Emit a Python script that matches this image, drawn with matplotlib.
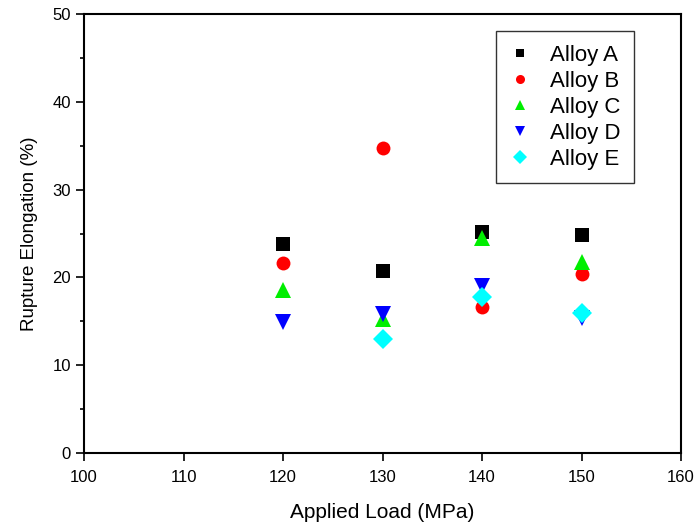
import matplotlib
matplotlib.use("Agg")
import matplotlib.pyplot as plt
from matplotlib.ticker import MultipleLocator

plt.rcParams['font.family'] = ['Liberation Sans', 'DejaVu Sans']

loads = [120, 130, 140, 150]
alloy_a = [23.8, 20.7, 25.2, 24.8]
alloy_b = [21.6, 34.7, 16.6, 20.4]
alloy_c = [18.6, 15.3, 24.5, 21.8]
alloy_d = [14.9, 15.8, 19.0, 15.4]
alloy_e = [None, 13.0, 17.8, 15.9]

series = [
    ("Alloy A", alloy_a, "s", "black", 9.5),
    ("Alloy B", alloy_b, "o", "red", 10),
    ("Alloy C", alloy_c, "^", "#00ee00", 12),
    ("Alloy D", alloy_d, "v", "blue", 12),
    ("Alloy E", alloy_e, "D", "cyan", 10.5),
]

fig = plt.figure(figsize=(6.95, 5.22), dpi=100)
ax = fig.add_axes([0.121, 0.132, 0.859, 0.841])

for name, vals, mk, col, ms in series:
    xs = [x for x, v in zip(loads, vals) if v is not None]
    ys = [v for v in vals if v is not None]
    ax.plot(xs, ys, linestyle='none', marker=mk, color=col, markersize=ms,
            markeredgewidth=0, label=name)

ax.set_xlim(100, 160)
ax.set_ylim(0, 50)
ax.xaxis.set_major_locator(MultipleLocator(10))
ax.yaxis.set_major_locator(MultipleLocator(10))
ax.yaxis.set_minor_locator(MultipleLocator(5))
ax.tick_params(axis='both', which='major', direction='out', length=6, width=1.2,
               labelsize=12, top=False, right=False)
ax.tick_params(axis='x', which='major', pad=6)
ax.tick_params(axis='y', which='minor', direction='out', length=3, width=1.2)
for sp in ax.spines.values():
    sp.set_linewidth(1.5)

ax.set_xlabel("Applied Load (MPa)", fontsize=15, labelpad=13)
ax.set_ylabel("Rupture Elongation (%)", fontsize=13.5, labelpad=10)

leg = ax.legend(loc='upper right', bbox_to_anchor=(0.921, 0.961), fontsize=16,
                frameon=True, fancybox=False, edgecolor='black',
                labelspacing=0.23, handletextpad=0.85, borderpad=0.6,
                handlelength=1.0, borderaxespad=0, markerscale=0.65)
leg.get_frame().set_linewidth(1.0)

fig.savefig("out.png", dpi=100)
